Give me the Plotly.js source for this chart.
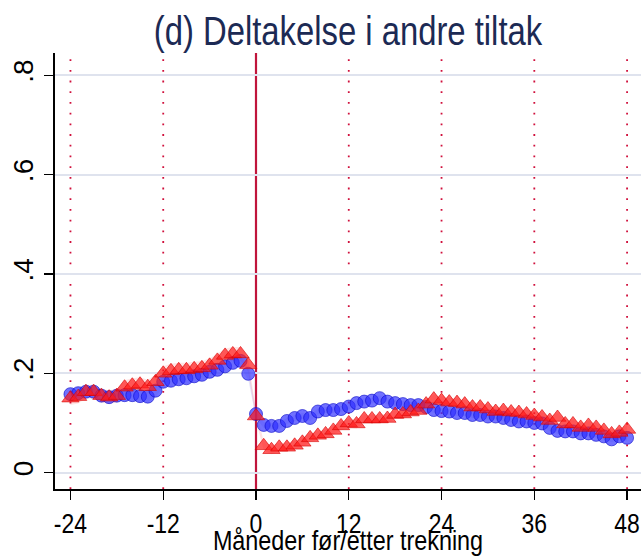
<!DOCTYPE html>
<html>
<head>
<meta charset="utf-8">
<script src="https://cdn.plot.ly/plotly-3.0.1.min.js"></script>
<style>html,body{margin:0;padding:0;background:#fff;}#chart{width:641px;height:556px;}</style>
</head>
<body>
<div id="chart"></div>
<script>
// Months relative to lottery draw
const months = [-24,-23,-22,-21,-20,-19,-18,-17,-16,-15,-14,-13,-12,-11,-10,-9,-8,-7,-6,-5,-4,-3,-2,-1,
  0,1,2,3,4,5,6,7,8,9,10,11,12,13,14,15,16,17,18,19,20,21,22,23,24,25,26,27,28,29,30,31,32,33,34,35,36,
  37,38,39,40,41,42,43,44,45,46,47,48];

// Blue circles
const blueVals = [0.158,0.160,0.163,0.163,0.155,0.152,0.155,0.156,0.156,0.154,0.153,0.165,0.183,0.185,0.188,0.190,0.194,0.197,0.203,0.207,0.214,0.221,0.225,0.199,
  0.118,0.096,0.094,0.094,0.104,0.110,0.114,0.110,0.123,0.126,0.126,0.128,0.133,0.140,0.143,0.145,0.150,0.143,0.140,0.138,0.136,0.136,0.132,0.126,0.124,0.123,0.120,0.120,0.116,0.116,0.113,0.113,0.110,0.106,0.103,0.103,0.100,
  0.099,0.090,0.084,0.083,0.083,0.079,0.079,0.076,0.073,0.067,0.073,0.070];

// Red triangles
const redVals = [0.150,0.153,0.163,0.163,0.155,0.152,0.155,0.172,0.176,0.178,0.173,0.183,0.200,0.205,0.207,0.207,0.209,0.211,0.216,0.226,0.236,0.239,0.239,0.217,
  0.114,0.054,0.046,0.051,0.051,0.055,0.061,0.070,0.075,0.078,0.085,0.094,0.100,0.098,0.108,0.108,0.108,0.109,0.117,0.118,0.122,0.125,0.138,0.148,0.145,0.142,0.141,0.138,0.132,0.132,0.128,0.123,0.125,0.122,0.121,0.118,0.115,
  0.112,0.105,0.111,0.098,0.098,0.091,0.095,0.091,0.085,0.078,0.081,0.087];

// Confidence-band half widths (read from the shaded areas)
const blueHalf = [0.012,0.012,0.012,0.012,0.012,0.012,0.012,0.012,0.012,0.012,0.012,0.012,0.012,0.012,0.012,0.012,0.012,0.012,0.012,0.012,0.012,0.012,0.012,0.012,
  0.008,0.006,0.006,0.006,0.006,0.006,0.006,0.006,0.006,0.006,0.006,0.006,0.006,0.006,0.006,0.006,0.006,0.006,0.006,0.006,0.006,0.006,0.006,0.006,0.006,0.006,0.006,0.006,0.006,0.006,0.006,0.006,0.006,0.006,0.006,0.006,0.006,
  0.006,0.006,0.006,0.006,0.006,0.006,0.006,0.006,0.006,0.006,0.006,0.006];
const redHalf = [0.014,0.014,0.014,0.014,0.014,0.014,0.014,0.014,0.014,0.014,0.014,0.014,0.014,0.014,0.014,0.014,0.014,0.014,0.014,0.014,0.014,0.014,0.014,0.014,
  0.010,0.009,0.009,0.009,0.009,0.009,0.009,0.009,0.009,0.009,0.009,0.009,0.009,0.009,0.009,0.009,0.009,0.009,0.009,0.009,0.009,0.009,0.009,0.009,0.009,0.009,0.009,0.009,0.009,0.009,0.009,0.009,0.009,0.009,0.009,0.009,0.009,
  0.009,0.009,0.009,0.009,0.009,0.009,0.009,0.009,0.009,0.009,0.009,0.009];

const xTicks = [-24,-12,0,12,24,36,48];
const xTickText = ['-24','-12','0','12','24','36','48'];
const yTicks = [0,0.2,0.4,0.6,0.8];
const yTickText = ['0','.2','.4','.6','.8'];
const dottedAt = [-24,-12,12,24,36,48];
const drawMonth = 0;

const FONT = '"Liberation Sans", Arial, sans-serif';

const lo = (v,h) => v.map((d,i)=>d-h[i]);
const hi = (v,h) => v.map((d,i)=>d+h[i]);

const traces = [
  {x: months, y: lo(blueVals, blueHalf), mode:'lines', line:{width:0, color:'rgba(0,0,0,0)'}, hoverinfo:'skip', showlegend:false},
  {x: months, y: hi(blueVals, blueHalf), mode:'lines', fill:'tonexty', fillcolor:'rgba(110,110,230,0.18)', line:{width:0, color:'rgba(0,0,0,0)'}, hoverinfo:'skip', showlegend:false},
  {x: months, y: lo(redVals, redHalf), mode:'lines', line:{width:0, color:'rgba(0,0,0,0)'}, hoverinfo:'skip', showlegend:false},
  {x: months, y: hi(redVals, redHalf), mode:'lines', fill:'tonexty', fillcolor:'rgba(255,90,90,0.16)', line:{width:0, color:'rgba(0,0,0,0)'}, hoverinfo:'skip', showlegend:false},
  {x: months, y: blueVals, mode:'markers', marker:{symbol:'circle', size:13, color:'rgba(45,45,255,0.68)', line:{width:1, color:'rgba(10,10,200,0.6)'}}, showlegend:false},
  {x: months, y: redVals, mode:'markers', marker:{symbol:'triangle-up', size:15, color:'rgba(255,25,25,0.7)', line:{width:1, color:'rgba(215,0,0,0.6)'}}, showlegend:false}
];

const shapes = dottedAt.map(v => ({type:'line', xref:'x', yref:'paper', x0:v, x1:v, y0:0, y1:1, layer:'between',
  line:{color:'#d0103c', width:1.8, dash:'1.8px,8.9px'}}));
shapes.push({type:'line', xref:'x', yref:'paper', x0:drawMonth, x1:drawMonth, y0:0, y1:1, layer:'between',
  line:{color:'#c0153c', width:2.2}});

const layout = {
  width: 641, height: 556,
  margin: {l:55, r:0, t:53, b:67},
  paper_bgcolor:'#ffffff', plot_bgcolor:'#ffffff',
  font: {family: FONT, color:'#000'},
  title: {text:'(d) Deltakelse i andre tiltak', font:{family:FONT, size:40, color:'#1c2a54'},
    x: 0.5, xanchor:'center', xref:'paper', y: 0.944, yanchor:'middle', yref:'container'},
  xaxis: {range:[-26, 49.8], tickvals:xTicks, ticktext:xTickText, showgrid:false, zeroline:false,
    showline:true, linecolor:'#000', linewidth:1.6, ticks:'outside', ticklen:9, tickwidth:1.4, tickcolor:'#000',
    ticklabeloverflow:'allow',
    tickfont:{family:FONT, size:28, color:'#000'},
    title:{text:'Måneder før/etter trekning', font:{family:FONT, size:28.5, color:'#000'}, standoff:2}},
  yaxis: {range:[-0.033, 0.845], tickvals:yTicks, ticktext:yTickText, showgrid:true, gridcolor:'#dfe3ee', gridwidth:2,
    zeroline:false, showline:true, linecolor:'#000', linewidth:1.6, ticks:'outside', ticklen:9, tickwidth:1.4, tickcolor:'#000',
    tickangle:-90, tickfont:{family:FONT, size:28, color:'#000'}},
  shapes: shapes
};

// The reference lettering is horizontally condensed; narrow the horizontal texts to match.
function condense(gd) {
  gd.querySelectorAll('.xtick text, .g-xtitle text, .gtitle').forEach(t => {
    const w = t.getComputedTextLength();
    if (w > 0) {
      t.setAttribute('textLength', (w * 0.82).toFixed(1));
      t.setAttribute('lengthAdjust', 'spacingAndGlyphs');
    }
  });
}

Plotly.newPlot('chart', traces, layout, {displayModeBar:false, staticPlot:true}).then(condense);
</script>
</body>
</html>
